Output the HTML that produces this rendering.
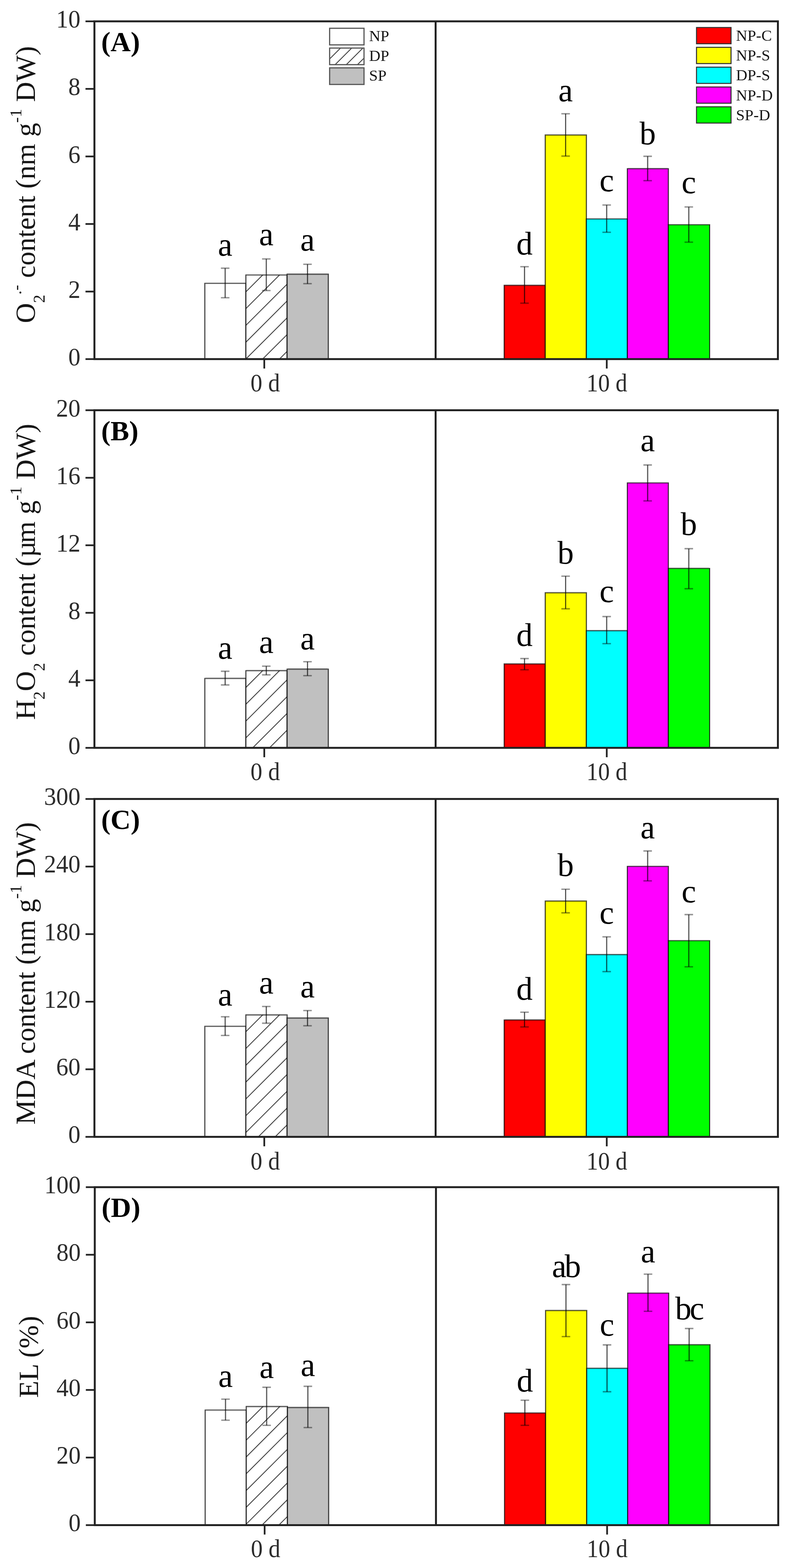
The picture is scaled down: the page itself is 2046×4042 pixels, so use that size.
<!DOCTYPE html>
<html lang="en"><head><meta charset="utf-8"><title>ROS, MDA and EL figure</title>
<style>
html,body{margin:0;padding:0;background:#fff;}
body{width:2046px;height:4042px;overflow:hidden;}
svg{display:block;}
text{font-family:"Liberation Serif", "DejaVu Serif", serif;fill:#161616;}
.ax{stroke:#222;stroke-width:5;fill:none;stroke-linecap:butt;}
.bv{stroke:#000;stroke-opacity:.74;stroke-width:2.8;fill:none;}
.bh{stroke:#000;stroke-opacity:.6;stroke-width:3.4;fill:none;}
.eb{stroke:#000;stroke-opacity:.66;stroke-width:3;fill:none;}
.ec{stroke:#000;stroke-opacity:.42;stroke-width:3.6;fill:none;}
.ht{stroke:#444;stroke-width:2.3;fill:none;}
.tk{font-size:66.5px;fill:#2c2c2c;}
.tkl{stroke:#222;stroke-width:4.4;fill:none;}
.lt{font-size:84px;fill:#000;}
.lg{font-size:40.6px;}
.yl{font-size:72px;}
.pl{font-size:72px;font-weight:bold;fill:#000;}
</style></head><body>
<svg width="2046" height="4042" viewBox="0 0 2046 4042">
<rect x="0" y="0" width="2046" height="4042" fill="#ffffff"/>
<g id="panel-A">
<rect x="527.8" y="730.4" width="105.8" height="195.3" fill="#ffffff"/>
<path class="bv" d="M527.8 925.7V729.0M633.6 925.7V729.0"/><path class="bh" d="M529.2 730.4H632.2"/>
<rect x="633.6" y="708.9" width="106.2" height="216.8" fill="#fff"/>
<clipPath id="c1"><rect x="633.6" y="708.9" width="106.2" height="216.8"/></clipPath><g clip-path="url(#c1)" class="ht"><line x1="633.6" y1="752.2" x2="739.8" y2="646.0"/><line x1="633.6" y1="795.5" x2="739.8" y2="689.3"/><line x1="633.6" y1="838.8" x2="739.8" y2="732.6"/><line x1="633.6" y1="882.1" x2="739.8" y2="775.9"/><line x1="633.6" y1="925.4" x2="739.8" y2="819.2"/><line x1="633.6" y1="968.7" x2="739.8" y2="862.5"/><line x1="633.6" y1="1012.0" x2="739.8" y2="905.8"/></g>
<path class="bv" d="M633.6 925.7V707.5M739.8 925.7V707.5"/><path class="bh" d="M635.0 708.9H738.4"/>
<rect x="739.8" y="706.7" width="106.2" height="219.0" fill="#c0c0c0"/>
<path class="bv" d="M739.8 925.7V705.3M846.0 925.7V705.3"/><path class="bh" d="M741.2 706.7H844.6"/>
<rect x="1299.2" y="735.5" width="105.8" height="190.2" fill="#ff0000"/>
<path class="bv" d="M1299.2 925.7V734.1M1405.0 925.7V734.1"/><path class="bh" d="M1300.6 735.5H1403.6"/>
<rect x="1405.0" y="348.0" width="106.0" height="577.7" fill="#ffff00"/>
<path class="bv" d="M1405.0 925.7V346.6M1511.0 925.7V346.6"/><path class="bh" d="M1406.4 348.0H1509.6"/>
<rect x="1511.0" y="564.4" width="105.6" height="361.3" fill="#00ffff"/>
<path class="bv" d="M1511.0 925.7V563.0M1616.6 925.7V563.0"/><path class="bh" d="M1512.4 564.4H1615.2"/>
<rect x="1616.6" y="434.8" width="105.6" height="490.9" fill="#ff00ff"/>
<path class="bv" d="M1616.6 925.7V433.4M1722.2 925.7V433.4"/><path class="bh" d="M1618.0 434.8H1720.8"/>
<rect x="1722.2" y="579.4" width="106.4" height="346.3" fill="#00ff00"/>
<path class="bv" d="M1722.2 925.7V578.0M1828.6 925.7V578.0"/><path class="bh" d="M1723.6 579.4H1827.2"/>
<path class="eb" d="M580.2 691.4V767.5"/><path class="ec" d="M569.2 691.4h22M569.2 767.5h22"/>
<text class="lt" x="580.2" y="658.9" text-anchor="middle">a</text>
<path class="eb" d="M686.2 667.5V749.0"/><path class="ec" d="M675.2 667.5h22M675.2 749.0h22"/>
<text class="lt" x="686.2" y="632.2" text-anchor="middle">a</text>
<path class="eb" d="M792.4 681.3V731.3"/><path class="ec" d="M781.4 681.3h22M781.4 731.3h22"/>
<text class="lt" x="792.4" y="646.0" text-anchor="middle">a</text>
<path class="eb" d="M1351.6 687.5V781.5"/><path class="ec" d="M1340.6 687.5h22M1340.6 781.5h22"/>
<text class="lt" x="1351.6" y="656.2" text-anchor="middle">d</text>
<path class="eb" d="M1457.5 293.2V402.4"/><path class="ec" d="M1446.5 293.2h22M1446.5 402.4h22"/>
<text class="lt" x="1457.5" y="261.2" text-anchor="middle">a</text>
<path class="eb" d="M1563.3 528.5V598.8"/><path class="ec" d="M1552.3 528.5h22M1552.3 598.8h22"/>
<text class="lt" x="1563.3" y="492.8" text-anchor="middle">c</text>
<path class="eb" d="M1668.9 402.9V465.7"/><path class="ec" d="M1657.9 402.9h22M1657.9 465.7h22"/>
<text class="lt" x="1668.9" y="372.2" text-anchor="middle">b</text>
<path class="eb" d="M1774.9 533.5V624.2"/><path class="ec" d="M1763.9 533.5h22M1763.9 624.2h22"/>
<text class="lt" x="1774.9" y="497.8" text-anchor="middle">c</text>
<rect class="ax" x="243.3" y="55.0" width="1761.2" height="870.7"/>
<path class="ax" d="M1122.5 55.0V925.7"/>
<path class="tkl" d="M220.3 925.7H243.3"/>
<text class="tk" transform="translate(207.2 941.9) scale(0.94 1)" text-anchor="end">0</text>
<path class="tkl" d="M220.3 751.6H243.3"/>
<text class="tk" transform="translate(207.2 767.8) scale(0.94 1)" text-anchor="end">2</text>
<path class="tkl" d="M220.3 577.4H243.3"/>
<text class="tk" transform="translate(207.2 593.6) scale(0.94 1)" text-anchor="end">4</text>
<path class="tkl" d="M220.3 403.3H243.3"/>
<text class="tk" transform="translate(207.2 419.5) scale(0.94 1)" text-anchor="end">6</text>
<path class="tkl" d="M220.3 229.1H243.3"/>
<text class="tk" transform="translate(207.2 245.3) scale(0.94 1)" text-anchor="end">8</text>
<path class="tkl" d="M220.3 55.0H243.3"/>
<text class="tk" transform="translate(207.2 71.2) scale(0.94 1)" text-anchor="end">10</text>
<path class="tkl" d="M681.0 925.7V950.0M1563.5 925.7V950.0"/>
<text class="tk" transform="translate(683.5 1008.5) scale(0.915 1)" text-anchor="middle">0 d</text>
<text class="tk" transform="translate(1563.8 1008.5) scale(0.905 1)" text-anchor="middle">10 d</text>
<text class="pl" x="260.8" y="132.0">(A)</text>
<text class="yl" transform="translate(90.3 833.0) rotate(-90)">O<tspan dy="25" font-size="43">2</tspan><tspan dy="-60" font-size="43">.-</tspan><tspan dy="35"> content (nm g</tspan><tspan dy="-35" font-size="43">-1</tspan><tspan dy="35"> DW)</tspan></text>
</g>
<g id="panel-B">
<rect x="527.8" y="1748.8" width="105.8" height="179.0" fill="#ffffff"/>
<path class="bv" d="M527.8 1927.8V1747.4M633.6 1927.8V1747.4"/><path class="bh" d="M529.2 1748.8H632.2"/>
<rect x="633.6" y="1728.8" width="106.2" height="199.0" fill="#fff"/>
<clipPath id="c2"><rect x="633.6" y="1728.8" width="106.2" height="199.0"/></clipPath><g clip-path="url(#c2)" class="ht"><line x1="633.6" y1="1772.1" x2="739.8" y2="1665.9"/><line x1="633.6" y1="1815.4" x2="739.8" y2="1709.2"/><line x1="633.6" y1="1858.7" x2="739.8" y2="1752.5"/><line x1="633.6" y1="1902.0" x2="739.8" y2="1795.8"/><line x1="633.6" y1="1945.3" x2="739.8" y2="1839.1"/><line x1="633.6" y1="1988.6" x2="739.8" y2="1882.4"/><line x1="633.6" y1="2031.9" x2="739.8" y2="1925.7"/></g>
<path class="bv" d="M633.6 1927.8V1727.4M739.8 1927.8V1727.4"/><path class="bh" d="M635.0 1728.8H738.4"/>
<rect x="739.8" y="1724.8" width="106.2" height="203.0" fill="#c0c0c0"/>
<path class="bv" d="M739.8 1927.8V1723.4M846.0 1927.8V1723.4"/><path class="bh" d="M741.2 1724.8H844.6"/>
<rect x="1299.2" y="1711.5" width="105.8" height="216.3" fill="#ff0000"/>
<path class="bv" d="M1299.2 1927.8V1710.1M1405.0 1927.8V1710.1"/><path class="bh" d="M1300.6 1711.5H1403.6"/>
<rect x="1405.0" y="1528.0" width="106.0" height="399.8" fill="#ffff00"/>
<path class="bv" d="M1405.0 1927.8V1526.6M1511.0 1927.8V1526.6"/><path class="bh" d="M1406.4 1528.0H1509.6"/>
<rect x="1511.0" y="1625.8" width="105.6" height="302.0" fill="#00ffff"/>
<path class="bv" d="M1511.0 1927.8V1624.4M1616.6 1927.8V1624.4"/><path class="bh" d="M1512.4 1625.8H1615.2"/>
<rect x="1616.6" y="1244.9" width="105.6" height="682.9" fill="#ff00ff"/>
<path class="bv" d="M1616.6 1927.8V1243.5M1722.2 1927.8V1243.5"/><path class="bh" d="M1618.0 1244.9H1720.8"/>
<rect x="1722.2" y="1465.3" width="106.4" height="462.5" fill="#00ff00"/>
<path class="bv" d="M1722.2 1927.8V1463.9M1828.6 1927.8V1463.9"/><path class="bh" d="M1723.6 1465.3H1827.2"/>
<path class="eb" d="M580.2 1730.4V1765.6"/><path class="ec" d="M569.2 1730.4h22M569.2 1765.6h22"/>
<text class="lt" x="580.2" y="1698.2" text-anchor="middle">a</text>
<path class="eb" d="M686.2 1717.2V1739.6"/><path class="ec" d="M675.2 1717.2h22M675.2 1739.6h22"/>
<text class="lt" x="686.2" y="1683.4" text-anchor="middle">a</text>
<path class="eb" d="M792.4 1705.8V1741.7"/><path class="ec" d="M781.4 1705.8h22M781.4 1741.7h22"/>
<text class="lt" x="792.4" y="1674.2" text-anchor="middle">a</text>
<path class="eb" d="M1351.6 1697.6V1726.5"/><path class="ec" d="M1340.6 1697.6h22M1340.6 1726.5h22"/>
<text class="lt" x="1351.6" y="1665.4" text-anchor="middle">d</text>
<path class="eb" d="M1457.5 1485.2V1569.4"/><path class="ec" d="M1446.5 1485.2h22M1446.5 1569.4h22"/>
<text class="lt" x="1457.5" y="1452.5" text-anchor="middle">b</text>
<path class="eb" d="M1563.3 1589.4V1659.2"/><path class="ec" d="M1552.3 1589.4h22M1552.3 1659.2h22"/>
<text class="lt" x="1563.3" y="1552.2" text-anchor="middle">c</text>
<path class="eb" d="M1668.9 1198.6V1291.3"/><path class="ec" d="M1657.9 1198.6h22M1657.9 1291.3h22"/>
<text class="lt" x="1668.9" y="1163.4" text-anchor="middle">a</text>
<path class="eb" d="M1774.9 1414.4V1517.6"/><path class="ec" d="M1763.9 1414.4h22M1763.9 1517.6h22"/>
<text class="lt" x="1774.9" y="1378.7" text-anchor="middle">b</text>
<rect class="ax" x="243.3" y="1057.5" width="1761.2" height="870.3"/>
<path class="ax" d="M1122.5 1057.5V1927.8"/>
<path class="tkl" d="M220.3 1927.8H243.3"/>
<text class="tk" transform="translate(207.2 1944.0) scale(0.94 1)" text-anchor="end">0</text>
<path class="tkl" d="M220.3 1753.7H243.3"/>
<text class="tk" transform="translate(207.2 1769.9) scale(0.94 1)" text-anchor="end">4</text>
<path class="tkl" d="M220.3 1579.7H243.3"/>
<text class="tk" transform="translate(207.2 1595.9) scale(0.94 1)" text-anchor="end">8</text>
<path class="tkl" d="M220.3 1405.6H243.3"/>
<text class="tk" transform="translate(207.2 1421.8) scale(0.94 1)" text-anchor="end">12</text>
<path class="tkl" d="M220.3 1231.6H243.3"/>
<text class="tk" transform="translate(207.2 1247.8) scale(0.94 1)" text-anchor="end">16</text>
<path class="tkl" d="M220.3 1057.5H243.3"/>
<text class="tk" transform="translate(207.2 1073.7) scale(0.94 1)" text-anchor="end">20</text>
<path class="tkl" d="M681.0 1927.8V1952.1M1563.5 1927.8V1952.1"/>
<text class="tk" transform="translate(683.5 2010.6) scale(0.915 1)" text-anchor="middle">0 d</text>
<text class="tk" transform="translate(1563.8 2010.6) scale(0.905 1)" text-anchor="middle">10 d</text>
<text class="pl" x="260.8" y="1134.5">(B)</text>
<text class="yl" transform="translate(90.2 1855.5) rotate(-90)">H<tspan dy="25" font-size="43">2</tspan><tspan dy="-25">O</tspan><tspan dy="25" font-size="43">2</tspan><tspan dy="-25" dx="0 0 0 0 0 0 0 0 0 0 0 -5"> content (µm g</tspan><tspan dy="-35" font-size="43">-1</tspan><tspan dy="35"> DW)</tspan></text>
</g>
<g id="panel-C">
<rect x="527.8" y="2645.6" width="105.8" height="285.0" fill="#ffffff"/>
<path class="bv" d="M527.8 2930.6V2644.2M633.6 2930.6V2644.2"/><path class="bh" d="M529.2 2645.6H632.2"/>
<rect x="633.6" y="2616.2" width="106.2" height="314.4" fill="#fff"/>
<clipPath id="c3"><rect x="633.6" y="2616.2" width="106.2" height="314.4"/></clipPath><g clip-path="url(#c3)" class="ht"><line x1="633.6" y1="2659.5" x2="739.8" y2="2553.3"/><line x1="633.6" y1="2702.8" x2="739.8" y2="2596.6"/><line x1="633.6" y1="2746.1" x2="739.8" y2="2639.9"/><line x1="633.6" y1="2789.4" x2="739.8" y2="2683.2"/><line x1="633.6" y1="2832.7" x2="739.8" y2="2726.5"/><line x1="633.6" y1="2876.0" x2="739.8" y2="2769.8"/><line x1="633.6" y1="2919.3" x2="739.8" y2="2813.1"/><line x1="633.6" y1="2962.6" x2="739.8" y2="2856.4"/><line x1="633.6" y1="3005.9" x2="739.8" y2="2899.7"/></g>
<path class="bv" d="M633.6 2930.6V2614.8M739.8 2930.6V2614.8"/><path class="bh" d="M635.0 2616.2H738.4"/>
<rect x="739.8" y="2624.2" width="106.2" height="306.4" fill="#c0c0c0"/>
<path class="bv" d="M739.8 2930.6V2622.8M846.0 2930.6V2622.8"/><path class="bh" d="M741.2 2624.2H844.6"/>
<rect x="1299.2" y="2629.3" width="105.8" height="301.3" fill="#ff0000"/>
<path class="bv" d="M1299.2 2930.6V2627.9M1405.0 2930.6V2627.9"/><path class="bh" d="M1300.6 2629.3H1403.6"/>
<rect x="1405.0" y="2322.7" width="106.0" height="607.9" fill="#ffff00"/>
<path class="bv" d="M1405.0 2930.6V2321.3M1511.0 2930.6V2321.3"/><path class="bh" d="M1406.4 2322.7H1509.6"/>
<rect x="1511.0" y="2460.8" width="105.6" height="469.8" fill="#00ffff"/>
<path class="bv" d="M1511.0 2930.6V2459.4M1616.6 2930.6V2459.4"/><path class="bh" d="M1512.4 2460.8H1615.2"/>
<rect x="1616.6" y="2233.4" width="105.6" height="697.2" fill="#ff00ff"/>
<path class="bv" d="M1616.6 2930.6V2232.0M1722.2 2930.6V2232.0"/><path class="bh" d="M1618.0 2233.4H1720.8"/>
<rect x="1722.2" y="2424.9" width="106.4" height="505.7" fill="#00ff00"/>
<path class="bv" d="M1722.2 2930.6V2423.5M1828.6 2930.6V2423.5"/><path class="bh" d="M1723.6 2424.9H1827.2"/>
<path class="eb" d="M580.2 2621.0V2669.3"/><path class="ec" d="M569.2 2621.0h22M569.2 2669.3h22"/>
<text class="lt" x="580.2" y="2591.7" text-anchor="middle">a</text>
<path class="eb" d="M686.2 2594.5V2637.6"/><path class="ec" d="M675.2 2594.5h22M675.2 2637.6h22"/>
<text class="lt" x="686.2" y="2561.0" text-anchor="middle">a</text>
<path class="eb" d="M792.4 2605.0V2644.3"/><path class="ec" d="M781.4 2605.0h22M781.4 2644.3h22"/>
<text class="lt" x="792.4" y="2570.9" text-anchor="middle">a</text>
<path class="eb" d="M1351.6 2609.3V2647.2"/><path class="ec" d="M1340.6 2609.3h22M1340.6 2647.2h22"/>
<text class="lt" x="1351.6" y="2577.2" text-anchor="middle">d</text>
<path class="eb" d="M1457.5 2292.3V2353.1"/><path class="ec" d="M1446.5 2292.3h22M1446.5 2353.1h22"/>
<text class="lt" x="1457.5" y="2258.1" text-anchor="middle">b</text>
<path class="eb" d="M1563.3 2415.0V2504.6"/><path class="ec" d="M1552.3 2415.0h22M1552.3 2504.6h22"/>
<text class="lt" x="1563.3" y="2381.2" text-anchor="middle">c</text>
<path class="eb" d="M1668.9 2193.6V2270.8"/><path class="ec" d="M1657.9 2193.6h22M1657.9 2270.8h22"/>
<text class="lt" x="1668.9" y="2160.9" text-anchor="middle">a</text>
<path class="eb" d="M1774.9 2357.6V2492.2"/><path class="ec" d="M1763.9 2357.6h22M1763.9 2492.2h22"/>
<text class="lt" x="1774.9" y="2326.4" text-anchor="middle">c</text>
<rect class="ax" x="243.3" y="2059.6" width="1761.2" height="871.0"/>
<path class="ax" d="M1122.5 2059.6V2930.6"/>
<path class="tkl" d="M220.3 2930.6H243.3"/>
<text class="tk" transform="translate(207.2 2946.2) scale(0.94 1)" text-anchor="end">0</text>
<path class="tkl" d="M220.3 2756.4H243.3"/>
<text class="tk" transform="translate(207.2 2772.0) scale(0.94 1)" text-anchor="end">60</text>
<path class="tkl" d="M220.3 2582.2H243.3"/>
<text class="tk" transform="translate(207.2 2597.8) scale(0.94 1)" text-anchor="end">120</text>
<path class="tkl" d="M220.3 2408.0H243.3"/>
<text class="tk" transform="translate(207.2 2423.6) scale(0.94 1)" text-anchor="end">180</text>
<path class="tkl" d="M220.3 2233.8H243.3"/>
<text class="tk" transform="translate(207.2 2249.4) scale(0.94 1)" text-anchor="end">240</text>
<path class="tkl" d="M220.3 2059.6H243.3"/>
<text class="tk" transform="translate(207.2 2075.2) scale(0.94 1)" text-anchor="end">300</text>
<path class="tkl" d="M681.0 2930.6V2954.9M1563.5 2930.6V2954.9"/>
<text class="tk" transform="translate(683.5 3014.9) scale(0.915 1)" text-anchor="middle">0 d</text>
<text class="tk" transform="translate(1563.8 3014.9) scale(0.905 1)" text-anchor="middle">10 d</text>
<text class="pl" x="260.8" y="2136.6">(C)</text>
<text class="yl" transform="translate(90.2 2899.0) rotate(-90)">MDA content (nm g<tspan dy="-35" font-size="43">-1</tspan><tspan dy="35"> DW)</tspan></text>
</g>
<g id="panel-D" transform="translate(0.9 0.9)">
<rect x="527.8" y="3634.0" width="105.8" height="296.6" fill="#ffffff"/>
<path class="bv" d="M527.8 3930.6V3632.6M633.6 3930.6V3632.6"/><path class="bh" d="M529.2 3634.0H632.2"/>
<rect x="633.6" y="3624.8" width="106.2" height="305.8" fill="#fff"/>
<clipPath id="c4"><rect x="633.6" y="3624.8" width="106.2" height="305.8"/></clipPath><g clip-path="url(#c4)" class="ht"><line x1="633.6" y1="3668.1" x2="739.8" y2="3561.9"/><line x1="633.6" y1="3711.4" x2="739.8" y2="3605.2"/><line x1="633.6" y1="3754.7" x2="739.8" y2="3648.5"/><line x1="633.6" y1="3798.0" x2="739.8" y2="3691.8"/><line x1="633.6" y1="3841.3" x2="739.8" y2="3735.1"/><line x1="633.6" y1="3884.6" x2="739.8" y2="3778.4"/><line x1="633.6" y1="3927.9" x2="739.8" y2="3821.7"/><line x1="633.6" y1="3971.2" x2="739.8" y2="3865.0"/><line x1="633.6" y1="4014.5" x2="739.8" y2="3908.3"/></g>
<path class="bv" d="M633.6 3930.6V3623.4M739.8 3930.6V3623.4"/><path class="bh" d="M635.0 3624.8H738.4"/>
<rect x="739.8" y="3627.3" width="106.2" height="303.3" fill="#c0c0c0"/>
<path class="bv" d="M739.8 3930.6V3625.9M846.0 3930.6V3625.9"/><path class="bh" d="M741.2 3627.3H844.6"/>
<rect x="1299.2" y="3641.5" width="105.8" height="289.1" fill="#ff0000"/>
<path class="bv" d="M1299.2 3930.6V3640.1M1405.0 3930.6V3640.1"/><path class="bh" d="M1300.6 3641.5H1403.6"/>
<rect x="1405.0" y="3377.3" width="106.0" height="553.3" fill="#ffff00"/>
<path class="bv" d="M1405.0 3930.6V3375.9M1511.0 3930.6V3375.9"/><path class="bh" d="M1406.4 3377.3H1509.6"/>
<rect x="1511.0" y="3526.4" width="105.6" height="404.2" fill="#00ffff"/>
<path class="bv" d="M1511.0 3930.6V3525.0M1616.6 3930.6V3525.0"/><path class="bh" d="M1512.4 3526.4H1615.2"/>
<rect x="1616.6" y="3332.5" width="105.6" height="598.1" fill="#ff00ff"/>
<path class="bv" d="M1616.6 3930.6V3331.1M1722.2 3930.6V3331.1"/><path class="bh" d="M1618.0 3332.5H1720.8"/>
<rect x="1722.2" y="3465.6" width="106.4" height="465.0" fill="#00ff00"/>
<path class="bv" d="M1722.2 3930.6V3464.2M1828.6 3930.6V3464.2"/><path class="bh" d="M1723.6 3465.6H1827.2"/>
<path class="eb" d="M580.2 3605.8V3660.1"/><path class="ec" d="M569.2 3605.8h22M569.2 3660.1h22"/>
<text class="lt" x="580.2" y="3574.2" text-anchor="middle">a</text>
<path class="eb" d="M686.2 3575.2V3673.3"/><path class="ec" d="M675.2 3575.2h22M675.2 3673.3h22"/>
<text class="lt" x="686.2" y="3551.2" text-anchor="middle">a</text>
<path class="eb" d="M792.4 3572.7V3679.1"/><path class="ec" d="M781.4 3572.7h22M781.4 3679.1h22"/>
<text class="lt" x="792.4" y="3546.6" text-anchor="middle">a</text>
<path class="eb" d="M1351.6 3608.6V3673.4"/><path class="ec" d="M1340.6 3608.6h22M1340.6 3673.4h22"/>
<text class="lt" x="1351.6" y="3585.9" text-anchor="middle">d</text>
<path class="eb" d="M1457.5 3310.5V3444.6"/><path class="ec" d="M1446.5 3310.5h22M1446.5 3444.6h22"/>
<text class="lt" x="1458.8" y="3290.8" text-anchor="middle" dx="0 -4.5">ab</text>
<path class="eb" d="M1563.3 3466.0V3586.7"/><path class="ec" d="M1552.3 3466.0h22M1552.3 3586.7h22"/>
<text class="lt" x="1563.3" y="3441.8" text-anchor="middle">c</text>
<path class="eb" d="M1668.9 3283.6V3379.3"/><path class="ec" d="M1657.9 3283.6h22M1657.9 3379.3h22"/>
<text class="lt" x="1668.9" y="3253.4" text-anchor="middle">a</text>
<path class="eb" d="M1774.9 3423.7V3506.9"/><path class="ec" d="M1763.9 3423.7h22M1763.9 3506.9h22"/>
<text class="lt" x="1776.2" y="3400.5" text-anchor="middle" dx="0 -4.5">bc</text>
<rect class="ax" x="243.3" y="3059.4" width="1761.2" height="871.1999999999998"/>
<path class="ax" d="M1122.5 3059.4V3930.6"/>
<path class="tkl" d="M220.3 3930.6H243.3"/>
<text class="tk" transform="translate(207.2 3946.4) scale(0.94 1)" text-anchor="end">0</text>
<path class="tkl" d="M220.3 3756.4H243.3"/>
<text class="tk" transform="translate(207.2 3772.2) scale(0.94 1)" text-anchor="end">20</text>
<path class="tkl" d="M220.3 3582.1H243.3"/>
<text class="tk" transform="translate(207.2 3597.9) scale(0.94 1)" text-anchor="end">40</text>
<path class="tkl" d="M220.3 3407.9H243.3"/>
<text class="tk" transform="translate(207.2 3423.7) scale(0.94 1)" text-anchor="end">60</text>
<path class="tkl" d="M220.3 3233.6H243.3"/>
<text class="tk" transform="translate(207.2 3249.4) scale(0.94 1)" text-anchor="end">80</text>
<path class="tkl" d="M220.3 3059.4H243.3"/>
<text class="tk" transform="translate(207.2 3075.2) scale(0.94 1)" text-anchor="end">100</text>
<path class="tkl" d="M681.0 3930.6V3954.9M1563.5 3930.6V3954.9"/>
<text class="tk" transform="translate(683.5 4013.4) scale(0.915 1)" text-anchor="middle">0 d</text>
<text class="tk" transform="translate(1563.8 4013.4) scale(0.905 1)" text-anchor="middle">10 d</text>
<text class="pl" x="260.8" y="3136.4">(D)</text>
<text class="yl" transform="translate(97.2 3602.4) rotate(-90)">EL (%)</text>
</g>
<g id="legend-left">
<rect x="849.4" y="72.9" width="88.6" height="42.8" fill="#ffffff" stroke="#555" stroke-width="3"/>
<text class="lg" x="951" y="106.4">NP</text>
<rect x="849.4" y="123.9" width="88.6" height="42.8" fill="#fff"/>
<clipPath id="c5"><rect x="849.4" y="123.9" width="88.6" height="42.8"/></clipPath><g clip-path="url(#c5)" class="ht"><line x1="849.4" y1="152.0" x2="938.0" y2="63.4"/><line x1="849.4" y1="180.8" x2="938.0" y2="92.2"/><line x1="849.4" y1="209.6" x2="938.0" y2="121.0"/><line x1="849.4" y1="238.4" x2="938.0" y2="149.8"/></g>
<rect x="849.4" y="123.9" width="88.6" height="42.8" fill="none" stroke="#555" stroke-width="3"/>
<text class="lg" x="951" y="157.4">DP</text>
<rect x="849.4" y="174.9" width="88.6" height="42.8" fill="#c0c0c0" stroke="#555" stroke-width="3"/>
<text class="lg" x="951" y="208.4">SP</text>
</g>
<g id="legend-right">
<rect x="1794.8" y="70.9" width="89.0" height="41.9" fill="#ff0000" stroke="#2e2e2e" stroke-width="2.6"/>
<text class="lg" x="1896.5" y="105.2">NP-C</text>
<rect x="1794.8" y="122.0" width="89.0" height="41.9" fill="#ffff00" stroke="#2e2e2e" stroke-width="2.6"/>
<text class="lg" x="1896.5" y="156.3">NP-S</text>
<rect x="1794.8" y="173.1" width="89.0" height="41.9" fill="#00ffff" stroke="#2e2e2e" stroke-width="2.6"/>
<text class="lg" x="1896.5" y="207.4">DP-S</text>
<rect x="1794.8" y="224.2" width="89.0" height="41.9" fill="#ff00ff" stroke="#2e2e2e" stroke-width="2.6"/>
<text class="lg" x="1896.5" y="258.5">NP-D</text>
<rect x="1794.8" y="275.3" width="89.0" height="41.9" fill="#00ff00" stroke="#2e2e2e" stroke-width="2.6"/>
<text class="lg" x="1896.5" y="309.6">SP-D</text>
</g>
</svg></body></html>
